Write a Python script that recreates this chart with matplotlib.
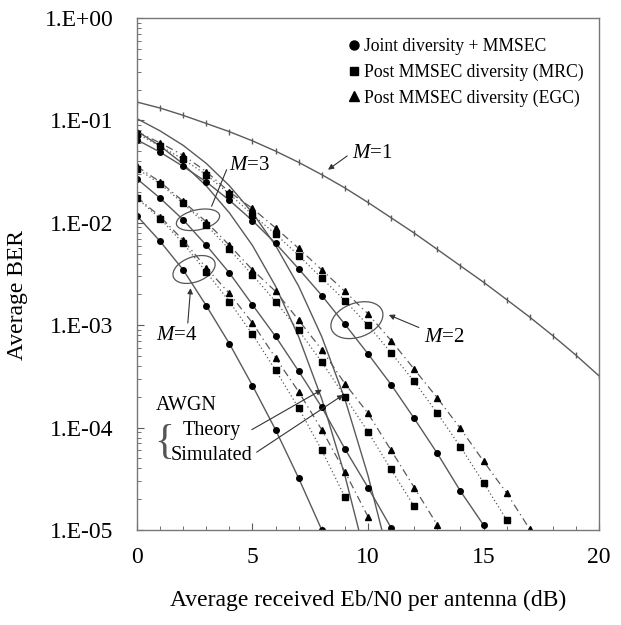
import numpy as np
import matplotlib
matplotlib.use("Agg")
import matplotlib.pyplot as plt
from matplotlib.patches import Ellipse
import matplotlib.transforms as mtrans

plt.rcParams['font.family'] = ['Liberation Serif', 'DejaVu Serif']
plt.rcParams['mathtext.fontset'] = 'custom'
plt.rcParams['mathtext.it'] = 'Liberation Serif:italic'
plt.rcParams['mathtext.rm'] = 'Liberation Serif'

# ---- data (BER) ----
snr_m1 = list(range(0, 21))
ber_m1 = [0.151, 0.132, 0.112, 0.0933, 0.0776, 0.0631, 0.0501, 0.0389, 0.0295, 0.0219,
          0.0158, 0.0112, 0.00794, 0.0055, 0.0038, 0.00263, 0.00178, 0.0012, 0.00079,
          0.00051, 0.00032]

snr_m2_joint = list(range(0, 16))
ber_m2_joint = [0.0646, 0.049, 0.0355, 0.0251, 0.0166, 0.0105, 0.0063, 0.00355, 0.00195,
                0.00102, 0.000525, 0.000263, 0.000123, 5.6e-5, 2.4e-5, 1.12e-5]
snr_m2_mrc = list(range(0, 17))
ber_m2_mrc = [0.0741, 0.0562, 0.0417, 0.0295, 0.0191, 0.0120, 0.00776, 0.00479, 0.00288,
              0.00174, 0.00100, 0.000537, 0.000282, 0.000138, 6.5e-5, 2.9e-5, 1.26e-5]
snr_m2_egc = list(range(0, 18))
ber_m2_egc = [0.0776, 0.0603, 0.0457, 0.0316, 0.0200, 0.0138, 0.00891, 0.00562, 0.00347,
              0.00214, 0.00129, 0.000708, 0.000372, 0.000195, 9.8e-5, 4.7e-5, 2.3e-5, 1.02e-5]

snr_m3_joint = list(range(0, 12))
ber_m3_joint = [0.0269, 0.0174, 0.0107, 0.00603, 0.00324, 0.00158, 0.000776, 0.000355,
                0.000158, 6.2e-5, 2.6e-5, 1.05e-5]
snr_m3_mrc = list(range(0, 13))
ber_m3_mrc = [0.0339, 0.0240, 0.0155, 0.00955, 0.0055, 0.00309, 0.0017, 0.00089, 0.000437,
              0.0002, 9.1e-5, 3.9e-5, 1.7e-5]
snr_m3_egc = list(range(0, 14))
ber_m3_egc = [0.0355, 0.0251, 0.0162, 0.0102, 0.00603, 0.00347, 0.00214, 0.00112, 0.000575,
              0.000269, 0.000138, 6.0e-5, 2.6e-5, 1.12e-5]

snr_m4_joint = list(range(0, 9))
ber_m4_joint = [0.0117, 0.0066, 0.00347, 0.00155, 0.00066, 0.000257, 9.5e-5, 3.2e-5, 1.0e-5]
snr_m4_mrc = list(range(0, 10))
ber_m4_mrc = [0.0174, 0.011, 0.0063, 0.00331, 0.0017, 0.000813, 0.000363, 0.000155, 6.0e-5,
              2.1e-5]
snr_m4_egc = list(range(0, 11))
ber_m4_egc = [0.0178, 0.0115, 0.00676, 0.00363, 0.00204, 0.00105, 0.000479, 0.000224,
              9.5e-5, 3.7e-5, 1.35e-5]

snr_awgn_theory = [0, 1, 2, 3, 4, 5, 6, 7, 8, 9, 9.6]
ber_awgn_theory = [0.0786, 0.0563, 0.0375, 0.0229, 0.0125, 0.0060, 0.0024, 0.00077,
                   0.00019, 3.4e-5, 1.0e-5]
snr_awgn_sim = [0, 1, 2, 3, 4, 5, 6, 7, 8, 9, 10, 10.6]
ber_awgn_sim = [0.104, 0.079, 0.057, 0.038, 0.023, 0.0125, 0.0060, 0.0024, 0.00077,
                0.00019, 3.4e-5, 1.0e-5]

legend_labels = ['Joint diversity + MMSEC', 'Post MMSEC diversity (MRC)',
                 'Post MMSEC diversity (EGC)']
y_ticks = [1e0, 1e-1, 1e-2, 1e-3, 1e-4, 1e-5]
y_ticklabels = ['1.E+00', '1.E-01', '1.E-02', '1.E-03', '1.E-04', '1.E-05']
x_ticks = [0, 5, 10, 15, 20]

# ---- figure ----
fig = plt.figure(figsize=(6.21, 6.25), dpi=100)
ax = fig.add_axes([0.2206, 0.152, 0.7440, 0.8192])
lc = '#5a5a5a'
mk = 'black'

ax.plot(snr_m1, ber_m1, color=lc, lw=1.0, marker='|', ms=4, mec=lc)

ax.plot(snr_awgn_theory, ber_awgn_theory, color=lc, lw=1.0)
ax.plot(snr_awgn_sim, ber_awgn_sim, color=lc, lw=1.0)

for s, b in [(snr_m2_joint, ber_m2_joint), (snr_m3_joint, ber_m3_joint),
             (snr_m4_joint, ber_m4_joint)]:
    ax.plot(s, b, color=lc, lw=1.0, marker='o', ms=4, mfc=mk, mec=mk)
for s, b in [(snr_m2_mrc, ber_m2_mrc), (snr_m3_mrc, ber_m3_mrc),
             (snr_m4_mrc, ber_m4_mrc)]:
    ax.plot(s, b, color=lc, lw=0.9, ls=(0, (1, 2)), marker='s', ms=4.5, mfc=mk, mec=mk)
for s, b in [(snr_m2_egc, ber_m2_egc), (snr_m3_egc, ber_m3_egc),
             (snr_m4_egc, ber_m4_egc)]:
    ax.plot(s, b, color=lc, lw=0.9, ls=(0, (6, 3, 1, 3)), marker='^', ms=5, mfc=mk, mec=mk)

ax.set_yscale('log')
ax.set_xlim(0, 20)
ax.set_ylim(1e-5, 1)
ax.set_yticks(y_ticks)
ax.set_yticklabels(y_ticklabels)
ax.set_xticks(x_ticks)
ax.set_xticks(range(0, 21), minor=True)
ax.tick_params(axis='both', which='both', direction='in', color=lc)
ax.tick_params(axis='both', which='major', length=5, labelsize=17)
ax.tick_params(axis='both', which='minor', length=3)
ax.tick_params(axis='y', which='major', pad=17)
ax.tick_params(axis='x', which='major', pad=12)
for sp in ax.spines.values():
    sp.set_color('#777777')
    sp.set_linewidth(1.0)

ax.set_xlabel('Average received Eb/N0 per antenna (dB)', fontsize=17, labelpad=16)
fig.text(18 / 621, 1 - 295 / 625, 'Average BER', fontsize=17, rotation=90,
         ha='center', va='center')

# legend (markers only)
handles = [plt.Line2D([], [], ls='none', marker='o', ms=6.5, color=mk),
           plt.Line2D([], [], ls='none', marker='s', ms=6, color=mk),
           plt.Line2D([], [], ls='none', marker='^', ms=6.5, color=mk)]
ax.legend(handles, legend_labels, loc='upper left', frameon=False, fontsize=12.7,
          handletextpad=0.05, handlelength=1.0, labelspacing=0.48,
          bbox_to_anchor=((345 - 137) / 462, (530 - 38) / 512), borderaxespad=0,
          borderpad=0)

arrow_kw = dict(arrowstyle='-|>', color='#333333', lw=0.8, mutation_scale=8,
                shrinkA=0, shrinkB=0)
line_kw = dict(arrowstyle='-', color='#333333', lw=0.8, shrinkA=0, shrinkB=0)

ax.text(10.2, 0.047, '$M$=1', fontsize=15, ha='center', va='center')
ax.annotate('', xy=(8.27, 0.033), xytext=(9.1, 0.045), arrowprops=arrow_kw)
ax.text(4.85, 0.0365, '$M$=3', fontsize=15, ha='center', va='center')
ax.annotate('', xy=(3.23, 0.0145), xytext=(3.88, 0.033), arrowprops=line_kw)
ax.text(13.3, 0.00076, '$M$=2', fontsize=15, ha='center', va='center')
ax.annotate('', xy=(10.9, 0.00126), xytext=(12.2, 0.00095), arrowprops=arrow_kw)
ax.text(1.73, 0.0008, '$M$=4', fontsize=15, ha='center', va='center')
ax.annotate('', xy=(2.32, 0.0023), xytext=(2.2, 0.00105), arrowprops=arrow_kw)


def ellipse_px(xc, yc, w_px, h_px, ang):
    tr = fig.dpi_scale_trans + mtrans.ScaledTranslation(xc, yc, ax.transData)
    ax.add_patch(Ellipse((0, 0), w_px / 100, h_px / 100, angle=ang, transform=tr,
                         fill=False, ec='#555555', lw=0.9))


ellipse_px(2.64, 0.0107, 44, 20, 12)
ellipse_px(2.47, 0.0035, 44, 25, 20)
ellipse_px(9.52, 0.00112, 54, 34, 20)

fig.text(186.5 / 621, 1 - 405 / 625, 'AWGN', fontsize=14.5, ha='center', va='center')
fig.text(212 / 621, 1 - 430 / 625, 'Theory', fontsize=14.5, ha='center', va='center')
fig.text(212 / 621, 1 - 455 / 625, 'Simulated', fontsize=14.5, ha='center', va='center')
fig.text(164 / 621, 1 - 443 / 625, '{', fontsize=30, ha='center', va='center',
         color='#555555')
ax.annotate('', xy=(8.0, 10 ** -3.63), xytext=(4.97, 10 ** -4.02), arrowprops=arrow_kw)
ax.annotate('', xy=(8.93, 10 ** -3.68), xytext=(5.18, 10 ** -4.24), arrowprops=arrow_kw)

fig.savefig('out.png', dpi=100)
